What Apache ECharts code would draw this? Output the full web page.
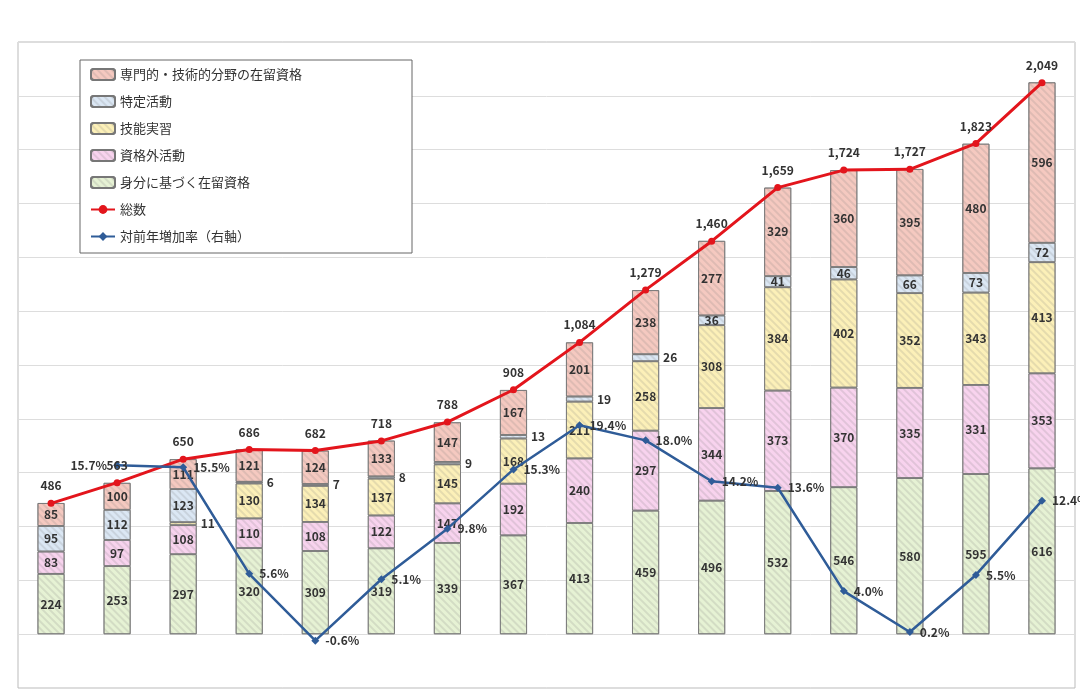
<!DOCTYPE html>
<html><head><meta charset="utf-8">
<script src="https://cdn.jsdelivr.net/npm/echarts@6/dist/echarts.min.js"></script>
<style>html,body{margin:0;padding:0;background:#fff}#c{width:1080px;height:691px}</style>
</head><body><div id="c"></div>
<script>
const years = ['2008','2009','2010','2011','2012','2013','2014','2015','2016','2017','2018','2019','2020','2021','2022','2023'];
const mibun   = [224,253,297,320,309,319,339,367,413,459,496,532,546,580,595,616];
const shikakugai = [83,97,108,110,108,122,147,192,240,297,344,373,370,335,331,353];
const ginou   = [0,0,11,130,134,137,145,168,211,258,308,384,402,352,343,413];
const tokutei = [95,112,123,6,7,8,9,13,19,26,36,41,46,66,73,72];
const senmon  = [85,100,111,121,124,133,147,167,201,238,277,329,360,395,480,596];
const total   = [486,563,650,686,682,718,788,908,1084,1279,1460,1659,1724,1727,1823,2049];
const growth  = [null,15.7,15.5,5.6,-0.6,5.1,9.8,15.3,19.4,18.0,14.2,13.6,4.0,0.2,5.5,12.4];

const lbl = {fontFamily:'Noto Sans CJK JP', fontSize:12, fontWeight:'bold', color:'#333'};
function barSeries(name, data, color){
  return {name, type:'bar', stack:'a', barWidth:27, yAxisIndex:0,
    itemStyle:{color, borderColor:'#777', borderWidth:0.8,
      decal:{symbol:'rect', dashArrayX:[1,0], dashArrayY:[2,3], rotation:Math.PI/4, color:'rgba(120,120,120,0.18)'}},
    data: data.map(v => v===0 ? {value:null} : {value:v,
      label:{show:true, position: v<30 ? 'right' : 'inside', distance: v<30 ? 4 : 5, ...lbl}})
  };
}
const chart = echarts.init(document.getElementById('c'));
chart.setOption({
  animation:false,
  textStyle:{fontFamily:'Noto Sans CJK JP'},
  grid:{left:18, right:5, top:42, bottom:3, show:true, borderColor:'#bbb', borderWidth:1},
  legend:{orient:'vertical', left:80, top:60, itemGap:14, itemWidth:24, itemHeight:11,
    backgroundColor:'#fff', borderColor:'#666', borderWidth:1, padding:[8,110,10,10],
    textStyle:{fontSize:13, color:'#333'},
    data:['専門的・技術的分野の在留資格','特定活動','技能実習','資格外活動','身分に基づく在留資格','総数','対前年増加率（右軸）']},
  xAxis:{type:'category', data:years, axisLine:{show:false}, axisTick:{show:false}, axisLabel:{show:false}},
  yAxis:[
    {type:'value', min:-200, max:2200, interval:200, axisLabel:{show:false},
     splitLine:{lineStyle:{color:'#ddd'}}},
    {type:'value', min:-5, max:55, interval:5, axisLabel:{show:false}, splitLine:{show:false}}
  ],
  series:[
    barSeries('身分に基づく在留資格', mibun, '#e6f2d4'),
    barSeries('資格外活動', shikakugai, '#f8d3ee'),
    barSeries('技能実習', ginou, '#fcf0b8'),
    barSeries('特定活動', tokutei, '#dbe7f4'),
    barSeries('専門的・技術的分野の在留資格', senmon, '#f5c9c0'),
    {name:'総数', type:'line', data:total, yAxisIndex:0, color:'#e3151c',
     lineStyle:{width:3, color:'#e3151c'}, symbol:'circle', symbolSize:7,
     itemStyle:{color:'#e3151c'},
     label:{show:true, position:'top', distance:8, formatter:p=>p.value.toLocaleString('en-US'), ...lbl}},
    {name:'対前年増加率（右軸）', type:'line', yAxisIndex:1, color:'#2f5c98',
     data: growth.map((v,i)=> i===1 ? {value:v, label:{position:'left'}} : v),
     lineStyle:{width:2.5, color:'#2f5c98'}, symbol:'diamond', symbolSize:8,
     itemStyle:{color:'#2f5c98'},
     label:{show:true, position:'right', distance:6, formatter:p=>p.value.toFixed(1)+'%', ...lbl}}
  ]
});
</script></body></html>
